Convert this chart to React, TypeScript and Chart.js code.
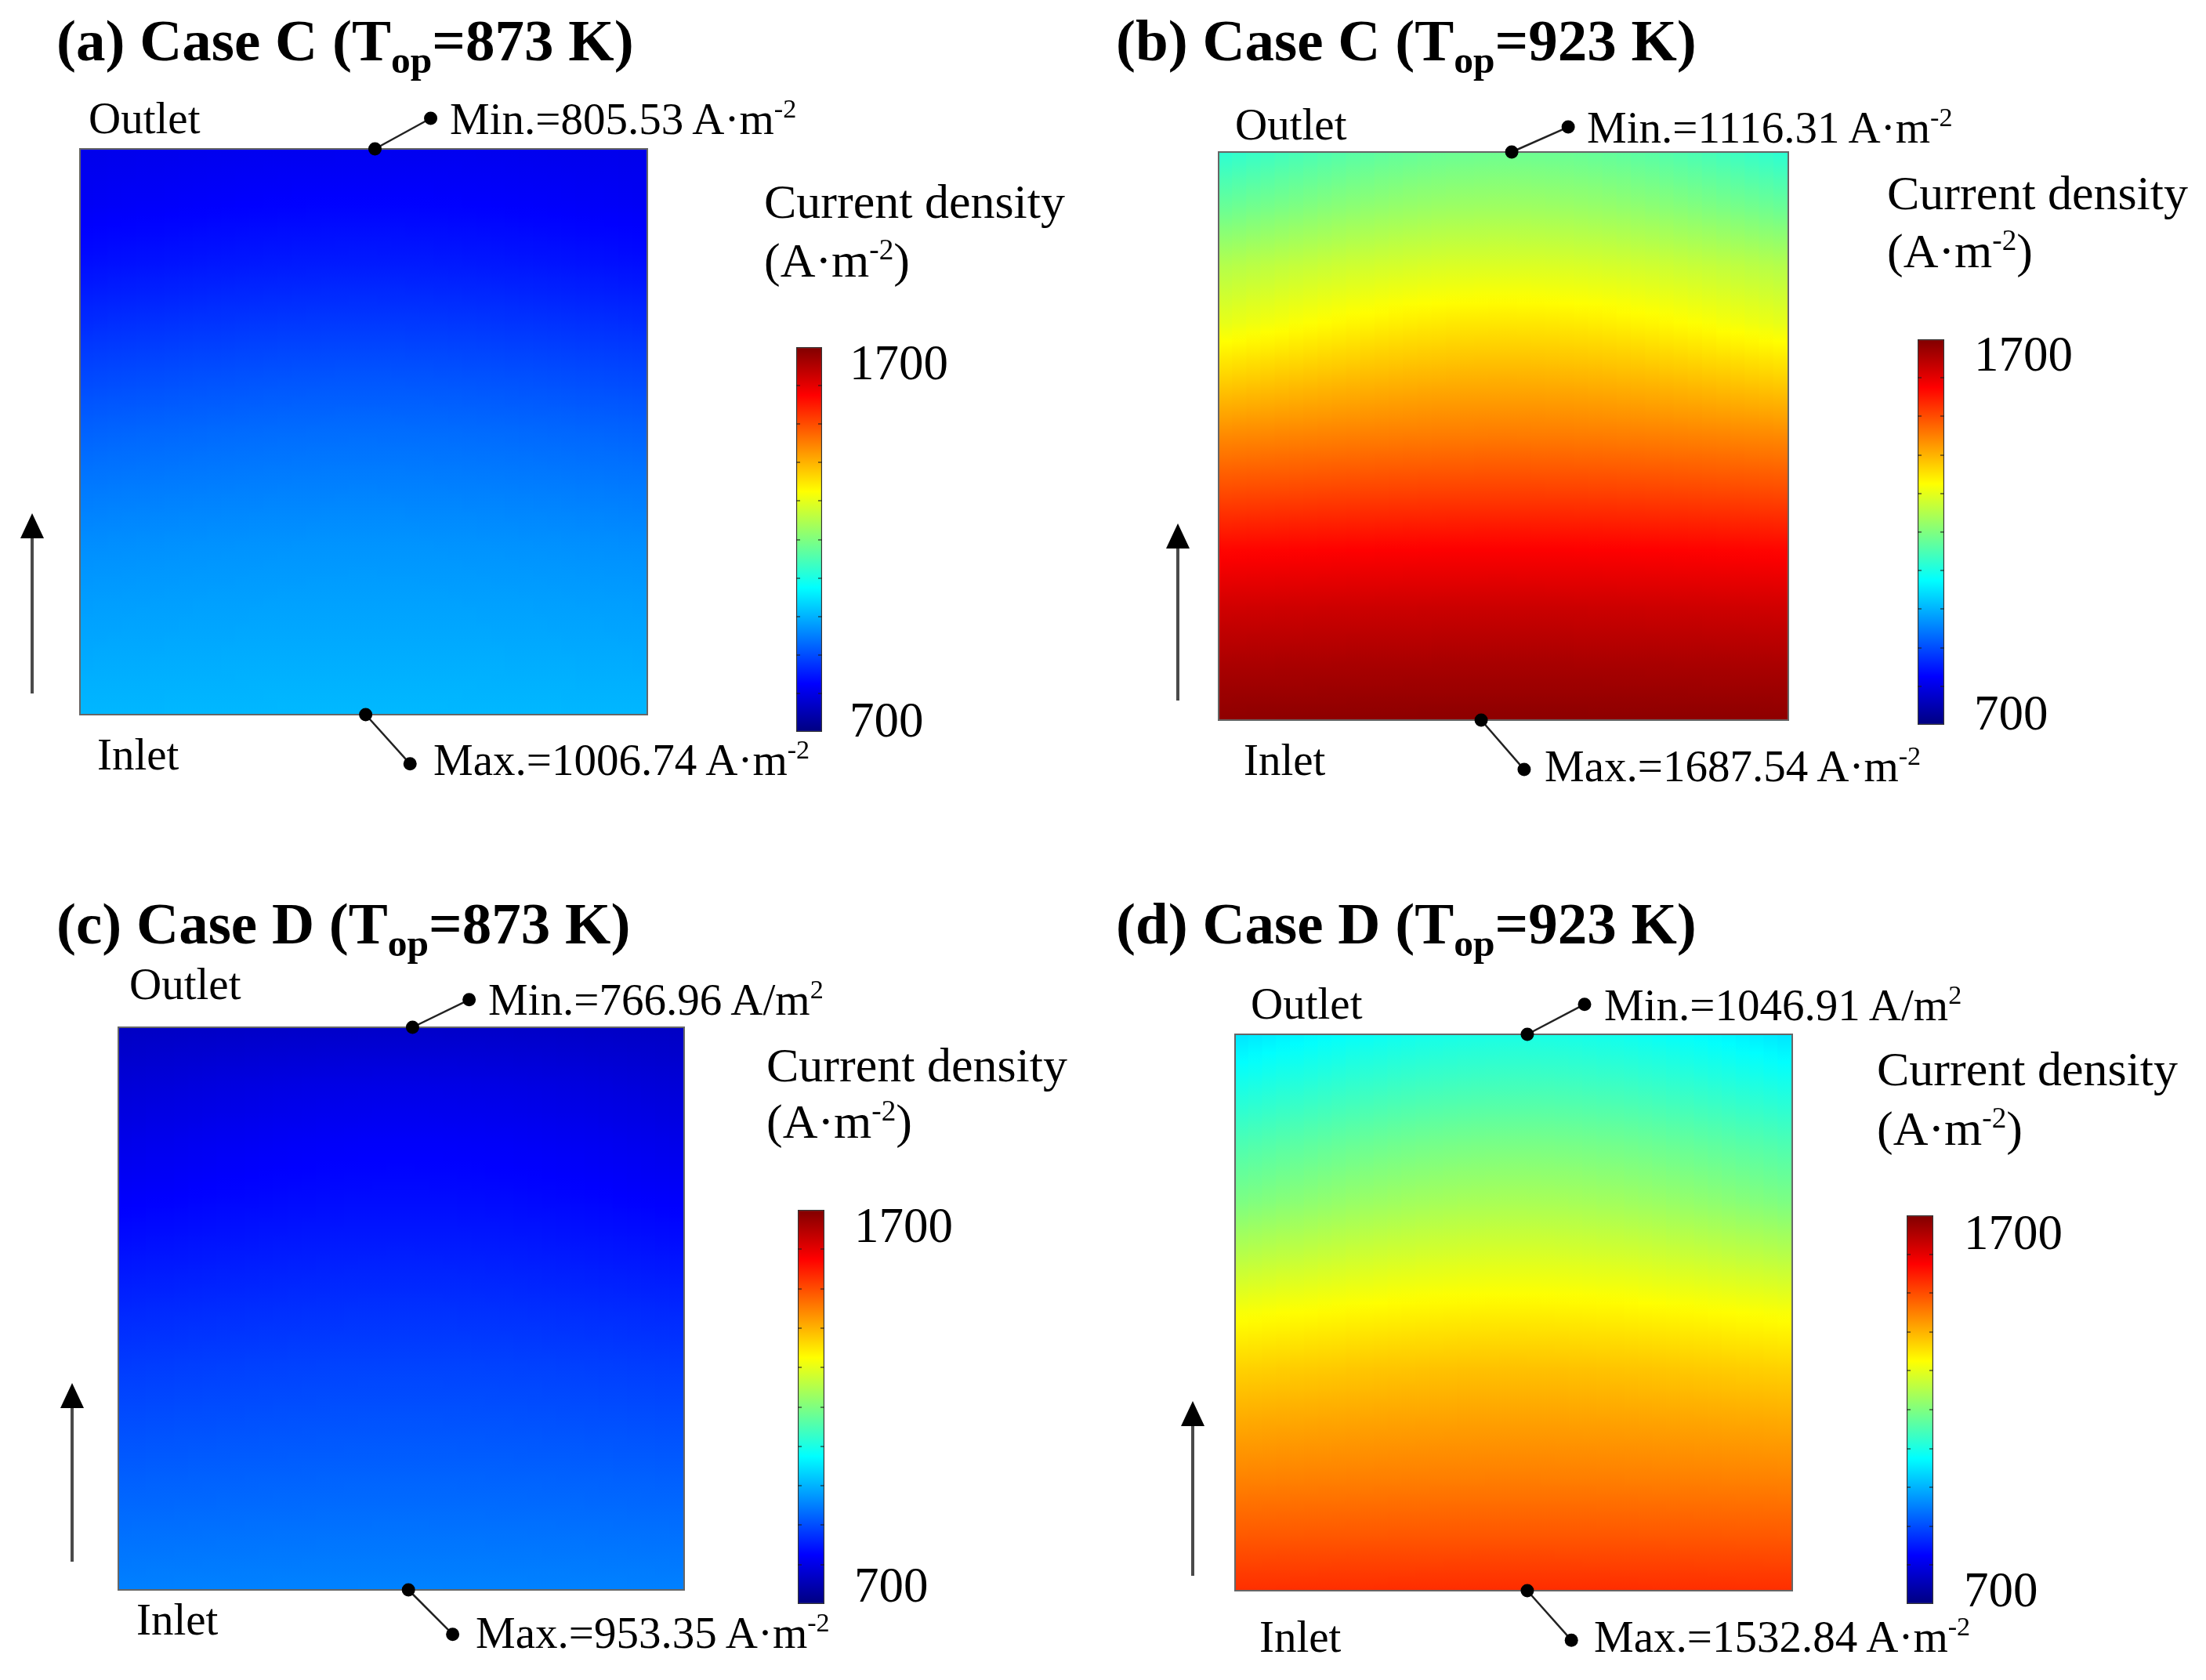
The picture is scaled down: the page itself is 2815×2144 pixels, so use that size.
import React, { useEffect, useRef } from "react";
import { Chart, registerables } from "chart.js";

Chart.register(...registerables);

const FONT = "'Liberation Serif', 'Times New Roman', Times, serif";

// ---- data ----
// fraction of the cell height, 0 = inlet (bottom), 1 = outlet (top)
const HEIGHT_FRACTIONS = [0, 0.1, 0.2, 0.3, 0.4, 0.5, 0.6, 0.7, 0.8, 0.9, 1];
// current density (A·m-2) along the centre line and along the side edges
const CASE_C_873_CENTER = [1006, 995, 983, 970, 952, 932, 907, 878, 850, 827, 810];
const CASE_C_873_EDGE = [1004, 992, 979, 964, 944, 921, 894, 864, 836, 816, 805];
const CASE_C_923_CENTER = [1687, 1660, 1625, 1577, 1514, 1455, 1403, 1348, 1290, 1232, 1182];
const CASE_C_923_EDGE = [1686, 1657, 1620, 1570, 1503, 1440, 1370, 1300, 1250, 1178, 1116];
const CASE_D_873_CENTER = [953, 938, 922, 906, 890, 872, 853, 835, 820, 800, 772];
const CASE_D_873_EDGE = [951, 935, 918, 900, 882, 862, 840, 820, 803, 785, 767];
const CASE_D_923_CENTER = [1532, 1490, 1452, 1420, 1385, 1340, 1290, 1240, 1195, 1145, 1100];
const CASE_D_923_EDGE = [1530, 1487, 1447, 1410, 1368, 1318, 1255, 1195, 1150, 1100, 1048];

const PANEL_LETTERS = ["a", "b", "c", "d"];
const CASE_NAMES = ["C", "C", "D", "D"];
const OPERATING_TEMPS = [873, 923, 873, 923];
const MIN_VALUES = [805.53, 1116.31, 766.96, 1046.91];
const MAX_VALUES = [1006.74, 1687.54, 953.35, 1532.84];
const MIN_UNIT_STYLE = ["dot", "dot", "slash", "slash"];
const MAX_UNIT_STYLE = ["dot", "dot", "dot", "dot"];

const COLORBAR_RANGE = [700, 1700];
const COLORBAR_STEP = 100;
const COLORBAR_TICK_LABELS = ["1700", "700"];
const JET_KNOTS = [0, 0.125, 0.375, 0.625, 0.875, 1];

const CENTER_PROFILES = [CASE_C_873_CENTER, CASE_C_923_CENTER, CASE_D_873_CENTER, CASE_D_923_CENTER];
const EDGE_PROFILES = [CASE_C_873_EDGE, CASE_C_923_EDGE, CASE_D_873_EDGE, CASE_D_923_EDGE];

const COLUMN_COUNT = 40;
// vertical axis range of the field chart (cell spans 0..1, extra room for the leaders)
const Y_AXIS_MIN = -0.12;
const Y_AXIS_MAX = 1.08;

// ---- layout (page pixels) ----
const LAYOUT = [
  {
    quad: { x: 0, y: 0, w: 1407, h: 1072 },
    box: { l: 102, t: 190, r: 826, b: 912 },
    cb: { l: 1016, t: 443, r: 1049, b: 934 },
    minAt: [0.522, 1], minEnd: [0.63, 1.054], maxAt: [0.504, 0], maxEnd: [0.59, -0.087],
    arrow: { x: 41, y0: 885, y1: 655 },
    title: { x: 72, y: 51 }, outlet: { x: 113, y: 150 }, inlet: { x: 124, y: 962 },
    minLbl: { x: 574, y: 151 }, maxLbl: { x: 553, y: 969 },
    cd: { x: 975, y: 257 }, unit: { x: 975, y: 332 },
    cbTop: { x: 1084, y: 463 }, cbBot: { x: 1084, y: 919 },
  },
  {
    quad: { x: 1407, y: 0, w: 1408, h: 1072 },
    box: { l: 1555, t: 194, r: 2282, b: 919 },
    cb: { l: 2447, t: 433, r: 2481, b: 925 },
    minAt: [0.516, 1], minEnd: [0.625, 1.044], maxAt: [0.457, 0], maxEnd: [0.54, -0.087],
    arrow: { x: 1503, y0: 894, y1: 668 },
    title: { x: 1424, y: 51 }, outlet: { x: 1576, y: 158 }, inlet: { x: 1587, y: 969 },
    minLbl: { x: 2025, y: 162 }, maxLbl: { x: 1971, y: 977 },
    cd: { x: 2408, y: 246 }, unit: { x: 2408, y: 320 },
    cbTop: { x: 2519, y: 452 }, cbBot: { x: 2519, y: 910 },
  },
  {
    quad: { x: 0, y: 1072, w: 1407, h: 1072 },
    box: { l: 151, t: 1311, r: 873, b: 2029 },
    cb: { l: 1018, t: 1544, r: 1052, b: 2047 },
    minAt: [0.522, 1], minEnd: [0.632, 1.049], maxAt: [0.514, 0], maxEnd: [0.6, -0.079],
    arrow: { x: 92, y0: 1993, y1: 1765 },
    title: { x: 72, y: 1178 }, outlet: { x: 165, y: 1255 }, inlet: { x: 174, y: 2066 },
    minLbl: { x: 623, y: 1275 }, maxLbl: { x: 607, y: 2083 },
    cd: { x: 978, y: 1359 }, unit: { x: 978, y: 1431 },
    cbTop: { x: 1090, y: 1564 }, cbBot: { x: 1090, y: 2023 },
  },
  {
    quad: { x: 1407, y: 1072, w: 1408, h: 1072 },
    box: { l: 1576, t: 1320, r: 2287, b: 2030 },
    cb: { l: 2433, t: 1551, r: 2467, b: 2047 },
    minAt: [0.527, 1], minEnd: [0.64, 1.054], maxAt: [0.527, 0], maxEnd: [0.614, -0.089],
    arrow: { x: 1522, y0: 2011, y1: 1788 },
    title: { x: 1424, y: 1178 }, outlet: { x: 1596, y: 1280 }, inlet: { x: 1607, y: 2088 },
    minLbl: { x: 2047, y: 1282 }, maxLbl: { x: 2034, y: 2088 },
    cd: { x: 2395, y: 1364 }, unit: { x: 2395, y: 1440 },
    cbTop: { x: 2506, y: 1573 }, cbBot: { x: 2506, y: 2029 },
  },
];

function jetRgb(t: number): string {
  const c = (v: number) => Math.max(0, Math.min(1, v));
  const r = c(1.5 - Math.abs(4 * t - 3));
  const g = c(1.5 - Math.abs(4 * t - 2));
  const b = c(1.5 - Math.abs(4 * t - 1));
  return `rgb(${Math.round(r * 255)},${Math.round(g * 255)},${Math.round(b * 255)})`;
}

function valueToT(v: number) {
  return (v - COLORBAR_RANGE[0]) / (COLORBAR_RANGE[1] - COLORBAR_RANGE[0]);
}

function columnGradient(chart: any, index: number, center: number[], edge: number[]) {
  const { ctx, chartArea, scales } = chart;
  if (!chartArea || !scales.y) return "rgba(0,0,0,0)";
  const yBottom = scales.y.getPixelForValue(0);
  const yTop = scales.y.getPixelForValue(1);
  const grad = ctx.createLinearGradient(0, yBottom, 0, yTop);
  const xc = (index + 0.5) / COLUMN_COUNT;
  const w = Math.sin(Math.PI * xc);
  const sub = 6;
  for (let k = 0; k < HEIGHT_FRACTIONS.length - 1; k++) {
    for (let s = 0; s < sub; s++) {
      const f = s / sub;
      const h = HEIGHT_FRACTIONS[k] + (HEIGHT_FRACTIONS[k + 1] - HEIGHT_FRACTIONS[k]) * f;
      const vc = center[k] + (center[k + 1] - center[k]) * f;
      const ve = edge[k] + (edge[k + 1] - edge[k]) * f;
      grad.addColorStop(h, jetRgb(valueToT(ve + (vc - ve) * w)));
    }
  }
  const last = HEIGHT_FRACTIONS.length - 1;
  grad.addColorStop(1, jetRgb(valueToT(edge[last] + (center[last] - edge[last]) * w)));
  return grad;
}

function colorbarGradient(chart: any) {
  const { ctx, chartArea, scales } = chart;
  if (!chartArea || !scales.y) return "rgba(0,0,0,0)";
  const y0 = scales.y.getPixelForValue(COLORBAR_RANGE[0]);
  const y1 = scales.y.getPixelForValue(COLORBAR_RANGE[1]);
  const g = ctx.createLinearGradient(0, y0, 0, y1);
  JET_KNOTS.forEach((k) => g.addColorStop(k, jetRgb(k)));
  return g;
}

function FieldChart({ idx }: { idx: number }) {
  const ref = useRef<HTMLCanvasElement>(null);
  const L = LAYOUT[idx];
  const q = L.quad;
  useEffect(() => {
    const canvas = ref.current!;
    const labels = Array.from({ length: COLUMN_COUNT }, (_, i) => `col${i}`);
    const center = CENTER_PROFILES[idx];
    const edge = EDGE_PROFILES[idx];
    const boxW = L.box.r - L.box.l;
    const boxH = L.box.b - L.box.t;
    const colW = boxW / COLUMN_COUNT;
    const framePlugin = {
      id: "frameAndArrow",
      afterDatasetDraw(chart: any, args: any) {
        if (args.index !== 0) return;
        const { ctx, chartArea: a, scales } = chart;
        const yt = scales.y.getPixelForValue(1);
        const yb = scales.y.getPixelForValue(0);
        ctx.save();
        ctx.strokeStyle = "#666666";
        ctx.lineWidth = 2;
        ctx.strokeRect(a.left, yt, a.right - a.left, yb - yt);
        ctx.restore();
      },
      afterDraw(chart: any) {
        const ctx = chart.ctx;
        const x = L.arrow.x - q.x;
        const yb = L.arrow.y0 - q.y;
        const yt = L.arrow.y1 - q.y;
        const head = 32;
        ctx.save();
        ctx.strokeStyle = "#4a4a4a";
        ctx.lineWidth = 4;
        ctx.beginPath();
        ctx.moveTo(x, yb);
        ctx.lineTo(x, yt + head - 2);
        ctx.stroke();
        ctx.fillStyle = "#000";
        ctx.beginPath();
        ctx.moveTo(x, yt);
        ctx.lineTo(x - 15, yt + head);
        ctx.lineTo(x + 15, yt + head);
        ctx.closePath();
        ctx.fill();
        ctx.restore();
      },
    };
    const leader = (from: number[], to: number[]) => ({
      type: "line" as const,
      data: [
        { x: from[0], y: from[1] },
        { x: to[0], y: to[1] },
      ],
      xAxisID: "xl",
      yAxisID: "y",
      borderColor: "#222222",
      borderWidth: 2.5,
      pointRadius: 8.5,
      pointBackgroundColor: "#000",
      pointBorderColor: "#000",
      pointBorderWidth: 0,
      tension: 0,
      clip: false as any,
      order: 1,
    });
    const chart = new Chart(canvas, {
      type: "bar",
      data: {
        labels,
        datasets: [
          {
            type: "bar",
            data: labels.map(() => [0, 1]) as any,
            backgroundColor: (c: any) => columnGradient(c.chart, c.dataIndex, center, edge),
            borderWidth: 0,
            grouped: false,
            barThickness: colW + 1.5,
            xAxisID: "x",
            yAxisID: "y",
            order: 5,
          } as any,
          leader(L.minAt, L.minEnd) as any,
          leader(L.maxAt, L.maxEnd) as any,
        ],
      },
      options: {
        responsive: false,
        animation: false,
        devicePixelRatio: 1,
        events: [],
        layout: {
          padding: {
            left: L.box.l - q.x,
            top: L.box.t - q.y - (Y_AXIS_MAX - 1) * boxH,
            right: q.x + q.w - L.box.r,
            bottom: q.y + q.h - L.box.b - (0 - Y_AXIS_MIN) * boxH,
          },
        },
        plugins: { legend: { display: false }, tooltip: { enabled: false }, title: { display: false } },
        scales: {
          x: { type: "category", display: false, offset: true },
          xl: { type: "linear", display: false, min: 0, max: 1 },
          y: { type: "linear", display: false, min: Y_AXIS_MIN, max: Y_AXIS_MAX },
        },
      } as any,
      plugins: [framePlugin],
    });
    return () => chart.destroy();
  }, []);
  return (
    <canvas
      ref={ref}
      width={q.w}
      height={q.h}
      style={{ position: "absolute", left: q.x, top: q.y, width: q.w, height: q.h }}
    />
  );
}

function ColorbarChart({ idx }: { idx: number }) {
  const ref = useRef<HTMLCanvasElement>(null);
  const cb = LAYOUT[idx].cb;
  const pad = 12;
  const w = cb.r - cb.l + 2 * pad;
  const h = cb.b - cb.t + 2 * pad;
  useEffect(() => {
    const barW = cb.r - cb.l;
    const chart = new Chart(ref.current!, {
      type: "bar",
      data: {
        labels: ["Current density"],
        datasets: [
          {
            data: [COLORBAR_RANGE] as any,
            backgroundColor: (c: any) => colorbarGradient(c.chart),
            borderColor: "#333333",
            borderWidth: 1.5,
            borderSkipped: false,
            barPercentage: 1,
            categoryPercentage: 1,
          } as any,
        ],
      },
      options: {
        responsive: false,
        animation: false,
        devicePixelRatio: 1,
        events: [],
        layout: { padding: pad },
        plugins: { legend: { display: false }, tooltip: { enabled: false } },
        scales: {
          x: { display: false, offset: true },
          y: {
            display: true,
            min: COLORBAR_RANGE[0],
            max: COLORBAR_RANGE[1],
            ticks: { display: false, stepSize: COLORBAR_STEP },
            grid: {
              drawTicks: false,
              drawOnChartArea: true,
              lineWidth: 2,
              z: 1,
              color: (c: any) =>
                c.tick && (c.tick.value === COLORBAR_RANGE[0] || c.tick.value === COLORBAR_RANGE[1])
                  ? "rgba(0,0,0,0)"
                  : "rgba(30,30,30,0.55)",
            },
            border: { display: false, dash: [5, barW - 10] },
          },
        },
      } as any,
    });
    return () => chart.destroy();
  }, []);
  return (
    <canvas
      ref={ref}
      width={w}
      height={h}
      style={{ position: "absolute", left: cb.l - pad, top: cb.t - pad, width: w, height: h }}
    />
  );
}

function Sup({ children }: { children: React.ReactNode }) {
  return <span style={{ fontSize: "0.6em", position: "relative", top: "-0.6em" }}>{children}</span>;
}
function Sub({ children }: { children: React.ReactNode }) {
  return <span style={{ fontSize: "0.66em", position: "relative", top: "0.32em" }}>{children}</span>;
}

function Label({ x, y, size, bold, children }: any) {
  return (
    <div
      style={{
        position: "absolute",
        left: x,
        top: y,
        transform: "translateY(-50%)",
        fontFamily: FONT,
        fontSize: size,
        lineHeight: 1,
        fontWeight: bold ? 700 : 400,
        whiteSpace: "nowrap",
        color: "#000",
      }}
    >
      {children}
    </div>
  );
}

function unitNode(style: string) {
  return style === "slash" ? (
    <>
      A/m<Sup>2</Sup>
    </>
  ) : (
    <>
      A·m<Sup>-2</Sup>
    </>
  );
}

function PanelTexts({ idx }: { idx: number }) {
  const L = LAYOUT[idx];
  const ann = 57;
  return (
    <>
      <Label x={L.title.x} y={L.title.y} size={75} bold>
        ({PANEL_LETTERS[idx]}) Case {CASE_NAMES[idx]} (T<Sub>op</Sub>={OPERATING_TEMPS[idx]} K)
      </Label>
      <Label x={L.outlet.x} y={L.outlet.y} size={ann}>
        Outlet
      </Label>
      <Label x={L.inlet.x} y={L.inlet.y} size={ann}>
        Inlet
      </Label>
      <Label x={L.minLbl.x} y={L.minLbl.y} size={ann}>
        Min.={MIN_VALUES[idx].toFixed(2)} {unitNode(MIN_UNIT_STYLE[idx])}
      </Label>
      <Label x={L.maxLbl.x} y={L.maxLbl.y} size={ann}>
        Max.={MAX_VALUES[idx].toFixed(2)} {unitNode(MAX_UNIT_STYLE[idx])}
      </Label>
      <Label x={L.cd.x} y={L.cd.y} size={62}>
        Current density
      </Label>
      <Label x={L.unit.x} y={L.unit.y} size={62}>
        (A·m<Sup>-2</Sup>)
      </Label>
      <Label x={L.cbTop.x} y={L.cbTop.y} size={63}>
        {COLORBAR_TICK_LABELS[0]}
      </Label>
      <Label x={L.cbBot.x} y={L.cbBot.y} size={63}>
        {COLORBAR_TICK_LABELS[1]}
      </Label>
    </>
  );
}

export default function App() {
  return (
    <div
      style={{
        position: "absolute",
        left: 0,
        top: 0,
        width: 2815,
        height: 2144,
        background: "#ffffff",
        overflow: "hidden",
      }}
    >
      {[0, 1, 2, 3].map((i) => (
        <FieldChart key={`f${i}`} idx={i} />
      ))}
      {[0, 1, 2, 3].map((i) => (
        <ColorbarChart key={`c${i}`} idx={i} />
      ))}
      {[0, 1, 2, 3].map((i) => (
        <PanelTexts key={`t${i}`} idx={i} />
      ))}
    </div>
  );
}
